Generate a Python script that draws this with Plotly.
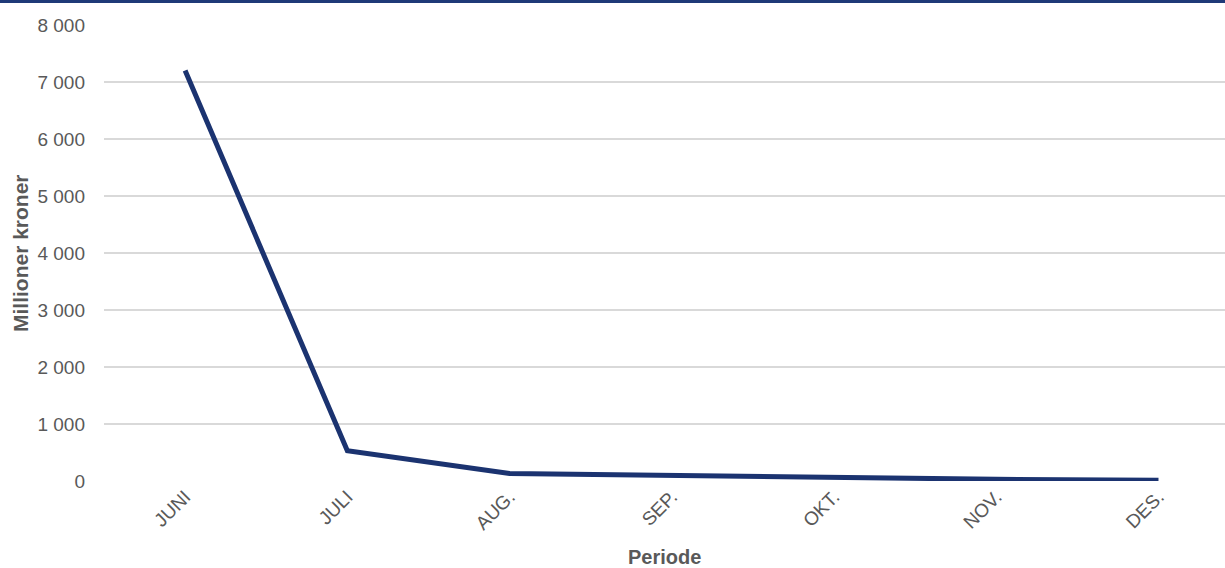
import plotly.graph_objects as go

categories = ["JUNI", "JULI", "AUG.", "SEP.", "OKT.", "NOV.", "DES."]
values = [7200, 530, 130, 95, 55, 30, 12]
y_ticks = [0, 1000, 2000, 3000, 4000, 5000, 6000, 7000, 8000]

navy = "#1B3370"
grey = "#595959"
font_family = "Liberation Sans, Arial, sans-serif"

fig = go.Figure()
fig.add_trace(go.Scatter(
    x=categories, y=values, mode="lines",
    line=dict(color=navy, width=5),
    hoverinfo="skip", showlegend=False,
))

W, H = 1225, 568
ml, mr, mt, mb = 104, 0, 25, 87
plot_h = H - mt - mb
plot_w = W - ml - mr

fig.update_layout(
    width=W, height=H,
    margin=dict(l=ml, r=mr, t=mt, b=mb, pad=0),
    paper_bgcolor="white", plot_bgcolor="white",
    separators=", ",
    font=dict(family=font_family, color=grey, size=18),
    xaxis=dict(
        type="category",
        range=[-0.5, 6.41],
        showgrid=False, showline=False, zeroline=False,
        tickangle=-45,
        ticks="",
        tickfont=dict(size=19, color=grey),
        automargin=False,
    ),
    yaxis=dict(
        range=[0, 8000],
        tickvals=y_ticks,
        tickformat=",d",
        showgrid=True, gridcolor="#D9D9D9", gridwidth=1.5,
        zeroline=False, showline=False,
        ticks="", ticklabelstandoff=18,
        tickfont=dict(size=19, color=grey),
        automargin=False,
    ),
)

fig.add_annotation(
    text="<b>Periode</b>", xref="paper", yref="paper",
    x=0.5, y=-(557 - (H - mb)) / plot_h, xanchor="center", yanchor="middle",
    showarrow=False, font=dict(size=20, color=grey),
)
fig.add_annotation(
    text="<b>Millioner kroner</b>", xref="paper", yref="paper",
    x=-(ml - 20) / plot_w, y=0.5, xanchor="center", yanchor="middle",
    textangle=-90, showarrow=False, font=dict(size=21, color=grey),
)

fig.add_shape(
    type="rect", xref="paper", yref="paper",
    x0=-0.2, x1=1.2,
    y0=1 + (mt - 3) / plot_h, y1=1 + (mt + 2) / plot_h,
    fillcolor="#1F3A78", line=dict(width=0), layer="above",
)

fig.write_html(
    "out.html",
    config={"displayModeBar": False},
    post_script="document.body.style.margin='0';document.body.style.overflow='hidden';",
)
